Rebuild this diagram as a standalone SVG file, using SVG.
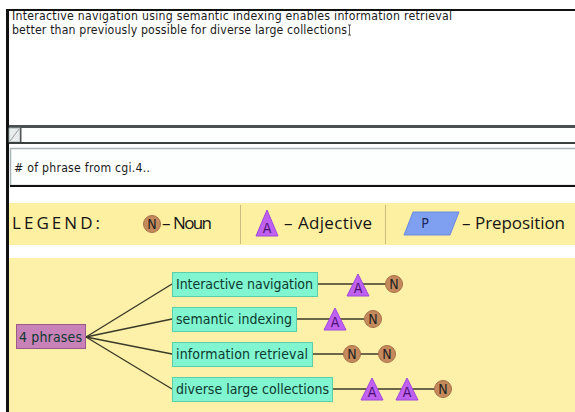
<svg xmlns="http://www.w3.org/2000/svg" width="575" height="412" viewBox="0 0 575 412">
  <style>
    .ui { font-family: "DejaVu Sans Condensed", "DejaVu Sans", sans-serif; font-size: 12.2px; fill: #1a1a1a; }
    .node { font-family: "DejaVu Sans Condensed", "DejaVu Sans", sans-serif; font-size: 14px; fill: #0d3a30; }
    .leg { font-family: "Open Sans", "Noto Sans", sans-serif; font-size: 17px; fill: #151515; }
    .phrase rect { fill: #80f5cf; stroke: #5ccfa8; stroke-width: 1; }
    .noun circle { fill: #c48a5c; stroke: #a8704a; stroke-width: 1; }
    .adj polygon { fill: #c060f0; stroke: #a048d8; stroke-width: 1; }
    .glyph { font-family: "DejaVu Sans Condensed", "DejaVu Sans", sans-serif; font-size: 14px; text-anchor: middle; }
    .edge { stroke: #3a3a28; stroke-width: 1.4; fill: none; }
  </style>

  <!-- window background -->
  <rect x="0" y="0" width="575" height="412" fill="#ffffff"/>
  <!-- outer frame -->
  <rect x="6" y="9" width="3" height="403" fill="#111"/>
  <rect x="6" y="9" width="569" height="2" fill="#111"/>

  <!-- text entry area -->
  <text class="ui" x="12" y="20" textLength="440">Interactive navigation using semantic indexing enables information retrieval</text>
  <text class="ui" x="12" y="34" textLength="335">better than previously possible for diverse large collections</text>
  <path d="M348 25 h3 M349.5 25 v10 M348 35 h3" stroke="#333" stroke-width="0.8" fill="none"/>

  <!-- scroll strip -->
  <rect x="9" y="125" width="566" height="3" fill="#4a4f50"/>
  <rect x="9" y="128" width="566" height="14" fill="#fdfefe"/>
  <rect x="9" y="128" width="11" height="14" fill="#e8ecec" stroke="#9aa" stroke-width="0.8"/>
  <path d="M10 141 L19 129" stroke="#888" stroke-width="0.8"/>
  <rect x="20" y="128" width="1.5" height="14" fill="#555"/>
  <rect x="9" y="142" width="566" height="2" fill="#3a3f40"/>

  <!-- phrase count box -->
  <rect x="10.5" y="148.5" width="566" height="37" fill="#fdfefe" stroke="#a9b4b4" stroke-width="1.5"/>
  <rect x="10" y="185" width="565" height="2" fill="#111"/>
  <text class="ui" x="14" y="172" textLength="136"># of phrase from cgi.4..</text>

  <!-- legend band -->
  <rect x="9" y="203" width="566" height="42" fill="#fdf0a0"/>
  <text class="leg" x="12" y="229" font-size="16" textLength="88">LEGEND:</text>
  <g id="legend-noun" class="noun">
    <circle cx="152" cy="224" r="8.5"/>
    <text class="glyph" x="152" y="229" fill="#222">N</text>
  </g>
  <text class="leg" x="162" y="229">–</text>
  <text class="leg" x="173" y="229" textLength="39">Noun</text>
  <rect x="240" y="205" width="1" height="39" fill="#c8bc80"/>
  <g id="legend-adj" class="adj">
    <polygon points="267,210 278,236 256,236"/>
    <text class="glyph" x="267" y="233" fill="#4a1070">A</text>
  </g>
  <text class="leg" x="284" y="229">–</text>
  <text class="leg" x="298" y="229" textLength="74">Adjective</text>
  <rect x="385" y="205" width="1" height="39" fill="#c8bc80"/>
  <g id="legend-prep">
    <polygon points="413,212 459,212 450,235 404,235" fill="#7f9ff0" stroke="#6a8ae0" stroke-width="1"/>
    <text class="glyph" x="425" y="228" fill="#1a2a60">P</text>
  </g>
  <text class="leg" x="462" y="229">–</text>
  <text class="leg" x="475" y="229" textLength="90">Preposition</text>

  <!-- phrase tree area -->
  <rect x="9" y="258" width="566" height="154" fill="#fdf0a8"/>

  <g id="connectors">
    <path class="edge" d="M86 337 L172 284"/>
    <path class="edge" d="M86 337 L172 319"/>
    <path class="edge" d="M86 337 L172 354"/>
    <path class="edge" d="M86 337 L172 389"/>
    <path class="edge" d="M318 284 L386 284"/>
    <path class="edge" d="M297 319 L365 319"/>
    <path class="edge" d="M313 354 L379 354"/>
    <path class="edge" d="M333 389 L435 389"/>
  </g>

  <g id="root">
    <rect x="16.5" y="324.5" width="69" height="24" fill="#c882b8" stroke="#9c5a8c" stroke-width="1"/>
    <text class="node" x="19" y="342" fill="#1a1a1a" textLength="63">4 phrases</text>
  </g>

  <g id="phrase-1" class="phrase">
    <rect x="172.5" y="272.5" width="145" height="24"/>
    <text class="node" x="176" y="289" textLength="137">Interactive navigation</text>
  </g>
  <g id="phrase-2" class="phrase">
    <rect x="172.5" y="307.5" width="124" height="24"/>
    <text class="node" x="176" y="324" textLength="116">semantic indexing</text>
  </g>
  <g id="phrase-3" class="phrase">
    <rect x="172.5" y="342.5" width="140" height="24"/>
    <text class="node" x="176" y="359" textLength="132">information retrieval</text>
  </g>
  <g id="phrase-4" class="phrase">
    <rect x="172.5" y="377.5" width="160" height="24"/>
    <text class="node" x="176" y="394" textLength="153">diverse large collections</text>
  </g>

  <!-- part-of-speech chains -->
  <g id="p1-adj" class="adj">
    <polygon points="358,274 369,296 347,296"/>
    <text class="glyph" x="358" y="293" fill="#4a1070">A</text>
  </g>
  <g id="p1-noun" class="noun">
    <circle cx="394" cy="284" r="8.5"/>
    <text class="glyph" x="394" y="289" fill="#222">N</text>
  </g>

  <g id="p2-adj" class="adj">
    <polygon points="335,308 346,330 324,330"/>
    <text class="glyph" x="335" y="327" fill="#4a1070">A</text>
  </g>
  <g id="p2-noun" class="noun">
    <circle cx="373" cy="319" r="8.5"/>
    <text class="glyph" x="373" y="324" fill="#222">N</text>
  </g>

  <g id="p3-noun-1" class="noun">
    <circle cx="352" cy="354" r="8.5"/>
    <text class="glyph" x="352" y="359" fill="#222">N</text>
  </g>
  <g id="p3-noun-2" class="noun">
    <circle cx="387" cy="354" r="8.5"/>
    <text class="glyph" x="387" y="359" fill="#222">N</text>
  </g>

  <g id="p4-adj-1" class="adj">
    <polygon points="372,378 383,400 361,400"/>
    <text class="glyph" x="372" y="397" fill="#4a1070">A</text>
  </g>
  <g id="p4-adj-2" class="adj">
    <polygon points="407,378 418,400 396,400"/>
    <text class="glyph" x="407" y="397" fill="#4a1070">A</text>
  </g>
  <g id="p4-noun" class="noun">
    <circle cx="443" cy="389" r="8.5"/>
    <text class="glyph" x="443" y="394" fill="#222">N</text>
  </g>
</svg>
